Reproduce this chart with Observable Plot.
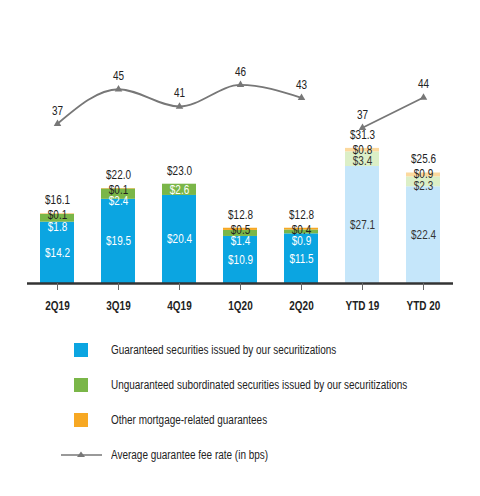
<!DOCTYPE html>
<html><head><meta charset="utf-8">
<script src="https://cdn.jsdelivr.net/npm/d3@7"></script>
<script src="https://cdn.jsdelivr.net/npm/@observablehq/plot@0.6"></script>
<style>
body{margin:0;background:#fff;font-family:"Liberation Sans",Arial,sans-serif;}
#wrap{position:relative;width:480px;height:496px;overflow:hidden}
#chart{position:absolute;left:0;top:0}
.row{position:absolute;left:0;height:20px;width:480px;font-size:12px;color:#222}
.row .sw{position:absolute;left:74px;top:3px;width:14px;height:14px}
.row .lab{position:absolute;left:111px;top:0;line-height:20px;white-space:nowrap;transform:scaleX(0.83);transform-origin:0 50%}
.row svg{position:absolute;left:60px;top:0}
g[aria-label="x-axis tick label"] text{font-weight:bold}
</style></head><body><div id="wrap"><div id="chart"></div><div id="legend"></div></div>
<script>
const periods = ["2Q19","3Q19","4Q19","1Q20","2Q20","YTD 19","YTD 20"];
const guaranteed = [14.2,19.5,20.4,10.9,11.5,27.1,22.4];
const unguaranteed = [1.8,2.4,2.6,1.4,0.9,3.4,2.3];
const other = [0.1,0.1,0,0.5,0.4,0.8,0.9];
const totals = [16.1,22.0,23.0,12.8,12.8,31.3,25.6];
const feeRate = [37,45,41,46,43,37,44];
const seriesNames = ["Guaranteed securities issued by our securitizations","Unguaranteed subordinated securities issued by our securitizations","Other mortgage-related guarantees"];
const lineName = "Average guarantee fee rate (in bps)";

const fullColors = ["#0ba5e1","#7ab648","#f7a823"];
const lightColors = ["#c5e6fa","#dcefc7","#fcd99e"];
const lineColor = "#777777";
const condense = 0.83;

const rows = periods.map((p,i)=>({period:p, g:guaranteed[i], u:unguaranteed[i], o:other[i], total:totals[i], fee:feeRate[i], ytd:p.startsWith("YTD")}));
const segs = rows.flatMap(r => {
  const a = r.g, b = r.g + r.u, c = b + r.o;
  return [
    {period:r.period, y1:0, y2:a, k:0, ytd:r.ytd},
    {period:r.period, y1:a, y2:b, k:1, ytd:r.ytd},
    {period:r.period, y1:b, y2:c, k:2, ytd:r.ytd}
  ].filter(s => s.y2 > s.y1);
});
const fmt = v => "$" + v.toFixed(1);
const font = {fontFamily:"Liberation Sans, Arial, sans-serif", fontSize:12};

const quarters = rows.filter(r => !r.ytd);
const ytds = rows.filter(r => r.ytd);

const plot = Plot.plot({
  width: 480, height: 325,
  marginTop: 24, marginBottom: 42, marginLeft: 27, marginRight: 27,
  style: {fontFamily: font.fontFamily, fontSize: "12px", background: "#fff", color: "#222"},
  x: {type:"band", domain: periods, paddingInner: 0.443, paddingOuter: 0.21, label: null},
  y: {domain: [0, 60], axis: null},
  color: {type: "identity"},
  marks: [
    Plot.barY(segs, {x:"period", y1:"y1", y2:"y2", fill: d => (d.ytd ? lightColors : fullColors)[d.k], inset: 0}),
    Plot.ruleY([0], {stroke:"#333", strokeWidth:2.5}),
    Plot.axisX({tickSize: 7, tickPadding: 11, stroke:"#666", fontSize: 12, fontWeight: "bold", fill:"#222"}),
    // blue segment labels
    Plot.text(rows, {x:"period", y: d => d.g/2, text: d => fmt(d.g), fill: d => d.ytd ? "#333" : "#fff", ...font}),
    // green labels (stacked near the top when an orange segment exists)
    Plot.text(rows.filter(d => d.o > 0), {x:"period", y:"total", dy: 13, text: d => fmt(d.u), fill: d => d.ytd ? "#333" : "#fff", ...font}),
    Plot.text(rows.filter(d => !(d.o > 0)), {x:"period", y: d => d.g + d.u/2, text: d => fmt(d.u), fill: d => d.ytd ? "#333" : "#fff", ...font}),
    // orange labels
    Plot.text(rows.filter(d => d.o > 0), {x:"period", y:"total", dy: 1.5, text: d => fmt(d.o), fill:"#222", ...font}),
    // totals
    Plot.text(rows, {x:"period", y:"total", dy: -13.5, text: d => fmt(d.total), fill:"#222", ...font}),
    // fee rate line
    Plot.line(quarters, {x:"period", y:"fee", curve:"monotone-x", stroke: lineColor, strokeWidth: 1.8}),
    Plot.dot(quarters, {x:"period", y:"fee", symbol:"triangle", r: 2.8, fill: lineColor, stroke: "none"}),
    Plot.text(quarters, {x:"period", y:"fee", dy: -13, text: d => String(d.fee), fill:"#222", ...font}),
    Plot.line(ytds, {x:"period", y:"fee", dy: 4, stroke: lineColor, strokeWidth: 1.8}),
    Plot.dot(ytds, {x:"period", y:"fee", dy: 4, symbol:"triangle", r: 2.8, fill: lineColor, stroke: "none"}),
    Plot.text(ytds, {x:"period", y:"fee", dy: -9, text: d => String(d.fee), fill:"#222", ...font})
  ]
});
document.getElementById("chart").appendChild(plot);

// condense all SVG text horizontally to mimic a condensed typeface
plot.querySelectorAll("text").forEach(t => {
  const L = t.getComputedTextLength();
  if (L > 0) {
    t.setAttribute("textLength", (L * condense).toFixed(2));
    t.setAttribute("lengthAdjust", "spacingAndGlyphs");
  }
});

// legend
const legend = document.getElementById("legend");
const rowTops = [340, 375, 410, 445];
seriesNames.forEach((name, i) => {
  const r = document.createElement("div");
  r.className = "row"; r.style.top = rowTops[i] + "px";
  r.innerHTML = `<div class="sw" style="background:${fullColors[i]}"></div><div class="lab"></div>`;
  r.querySelector(".lab").textContent = name;
  legend.appendChild(r);
});
{
  const r = document.createElement("div");
  r.className = "row"; r.style.top = rowTops[3] + "px";
  r.innerHTML = `<svg width="44" height="20"><line x1="1" y1="10" x2="42" y2="10" stroke="${lineColor}" stroke-width="1.5"/><path d="M21,6.5L25,12L17,12Z" fill="${lineColor}"/></svg><div class="lab"></div>`;
  r.querySelector(".lab").textContent = lineName;
  legend.appendChild(r);
}
</script></body></html>
